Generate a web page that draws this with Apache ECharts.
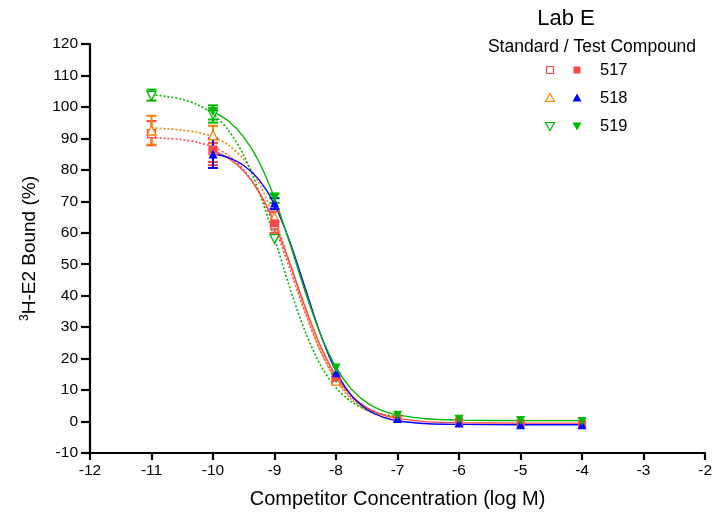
<!DOCTYPE html>
<html><head><meta charset="utf-8">
<script src="https://cdn.jsdelivr.net/npm/echarts@6/dist/echarts.min.js"></script>
<style>html,body{margin:0;padding:0;background:#fff}#c{width:715px;height:515px}</style>
</head><body><div id="c"></div>
<script>
// ---- data ----
const xTicks = [-12,-11,-10,-9,-8,-7,-6,-5,-4,-3,-2];
const doseStd = [-11,-10,-9,-8];
const doseTest = [-10,-9,-8,-7,-6,-5,-4];
const std517 = [91.5, 86, 62.5, 13.5];
const std518 = [92.5, 91, 65, 13];
const std519 = [103.5, 97.5, 58, 14];
const test517 = [86.5, 63, 14, 1, 0, -0.5, -0.8];
const test518 = [85, 69.5, 15.5, 1, -0.5, -1, -1];
const test519 = [98.5, 71, 17, 2, 0.7, 0.3, 0];
// error bars [x, low, high]
const err517s = [[-11, 87.8, 95.5],[-10, 82.5, 88.5]];
const err518s = [[-11, 88, 97.2],[-10, 88.5, 94]];
const err519s = [[-11, 102, 105.5],[-10, 96, 99.5]];
const err517t = [[-10, 81.5, 88.6],[-9, 60, 66.7]];
const err518t = [[-10, 80.6, 90],[-9, 67.5, 71]];
const err519t = [[-10, 95, 100.5],[-9, 69.5, 72.5]];
// fitted curves
const curveXStd = [-11,-10.75,-10.5,-10.25,-10,-9.75,-9.5,-9.25,-9,-8.75,-8.5,-8.25,-8,-7.75,-7.5,-7.25,-7];
const fit517s = [90.2,90.0,89.6,88.7,87.3,84.6,80.0,72.7,61.9,48.5,34.5,22.4,13.5,7.7,4.3,2.3,1.3];
const fit518s = [93.3,93.05,92.6,91.9,90.5,87.9,83.3,75.7,64.5,50.2,35.2,22.3,13.0,7.1,3.6,1.7,0.7];
const fit519s = [103.9,103.3,102.4,100.7,97.7,92.6,84.6,72.9,58.2,42.4,28.5,17.8,10.7,6.3,3.7,2.3,1.5];
const curveXTest = [-10,-9.75,-9.5,-9.25,-9,-8.75,-8.5,-8.25,-8,-7.75,-7.5,-7.25,-7,-6.5,-6,-5,-4];
const fit517t = [86.1,83.7,79.6,72.9,63.0,50.2,36.3,23.9,14.5,8.2,4.4,2.2,1.0,-0.1,-0.4,-0.5,-0.5];
const fit518t = [85.2,83.9,81.4,76.8,69.0,57.1,42.3,27.6,16.0,8.3,3.9,1.5,0.25,-0.7,-0.9,-1.0,-1.0];
const fit519t = [98.5,95.5,90.4,82.5,71.0,56.6,41.2,27.6,17.2,10.3,6.0,3.5,2.1,0.8,0.46,0.3,0.3];
const legendLabels = ['517','518','519'];

const RED='#FF4848', ORANGE='#FF8000', BLUE='#0000FF', GREEN='#00B800';
const FONT='Liberation Sans, Arial, sans-serif';
const zip=(xs,ys)=>xs.map((x,i)=>[x,ys[i]]);

function curve(xs, ys, color, dotted){
  return {type:'line', data:zip(xs,ys), smooth:0.3, showSymbol:false, silent:true, z:2,
    lineStyle:{color, width: dotted?1.6:1.4, type: dotted?[2,2]:'solid'}};
}
function errSeries(data, color){
  return {type:'custom', data, z:3, silent:true,
    renderItem:(params, api)=>{
      const x=api.value(0), lo=api.value(1), hi=api.value(2);
      const a=api.coord([x,lo]), b=api.coord([x,hi]);
      const st={stroke:color, lineWidth:2};
      return {type:'group', children:[
        {type:'line', shape:{x1:a[0],y1:a[1],x2:b[0],y2:b[1]}, style:st},
        {type:'line', shape:{x1:a[0]-5,y1:a[1],x2:a[0]+5,y2:a[1]}, style:st},
        {type:'line', shape:{x1:b[0]-5,y1:b[1],x2:b[0]+5,y2:b[1]}, style:st}
      ]};
    }};
}
function pts(xs, ys, color, symbol, open, rot){
  return {type:'scatter', data:zip(xs,ys), symbol, symbolSize: symbol==='rect'?8:9, symbolRotate: rot||0, z:5, silent:true,
    itemStyle:{color: open?'#fff':color, borderColor: color, borderWidth: open?1.3:0, opacity:1}};
}

const chart = echarts.init(document.getElementById('c'), null, {renderer:'canvas'});

const legendGraphics = [];
const legendY=[70,98,126];
const legendDefs=[
  {c1:RED,c2:RED,sym:'rect'},
  {c1:ORANGE,c2:BLUE,sym:'up'},
  {c1:GREEN,c2:GREEN,sym:'down'}
];
legendDefs.forEach((d,i)=>{
  const y=legendY[i];
  [[550,d.c1,true],[577,d.c2,false]].forEach(([x,col,open])=>{
    if(d.sym==='rect'){
      legendGraphics.push({type:'rect', shape:{x:x-3.5,y:y-3.5,width:7,height:7},
        style:{fill: open?'#fff':col, stroke: col, lineWidth: open?1.2:0}});
    } else {
      const up=d.sym==='up';
      const pts2 = up? [[x,y-4.5],[x+4.5,y+3.5],[x-4.5,y+3.5]] : [[x,y+4.5],[x+4.5,y-3.5],[x-4.5,y-3.5]];
      legendGraphics.push({type:'polygon', shape:{points:pts2},
        style:{fill: open?'#fff':col, stroke: col, lineWidth: open?1.2:0}});
    }
  });
  legendGraphics.push({type:'text', x:600, y:y, style:{text:legendLabels[i], font:'16.5px '+FONT, fill:'#000', textVerticalAlign:'middle', verticalAlign:'middle'}});
});
legendGraphics.push({type:'text', x:566, y:19, style:{text:'Lab E', font:'22px '+FONT, fill:'#000', align:'center', verticalAlign:'middle', textAlign:'center', textVerticalAlign:'middle'}});
legendGraphics.push({type:'text', x:592, y:47, style:{text:'Standard / Test Compound', font:'17.5px '+FONT, fill:'#000', align:'center', verticalAlign:'middle', textAlign:'center', textVerticalAlign:'middle'}});

chart.setOption({
  animation:false,
  backgroundColor:'#fff',
  grid:{left:90, right:8, top:44, bottom:62, containLabel:false},
  xAxis:{type:'value', min:-12, max:-2, interval:1,
    name:'Competitor Concentration (log M)', nameLocation:'middle', nameGap:36,
    nameTextStyle:{fontFamily:FONT, fontSize:20, color:'#000'},
    axisLine:{show:true, onZero:false, lineStyle:{color:'#000', width:2.2}},
    axisTick:{show:true, length:7, lineStyle:{color:'#000', width:2.2}},
    axisLabel:{fontFamily:FONT, fontSize:15.5, color:'#000', margin:10,
      formatter:v=>xTicks.includes(v)?String(v):''},
    splitLine:{show:false}},
  yAxis:{type:'value', min:-10, max:120, interval:10,
    name:'{sup|3}H-E2 Bound (%)', nameLocation:'middle', nameGap:50, nameRotate:90,
    nameTextStyle:{fontFamily:FONT, fontSize:19, color:'#000',
      rich:{sup:{fontFamily:FONT, fontSize:12, color:'#000', verticalAlign:'top', padding:[0,0,9,0]}}},
    axisLine:{show:true, onZero:false, lineStyle:{color:'#000', width:2.2}},
    axisTick:{show:true, length:9, lineStyle:{color:'#000', width:2.2}},
    axisLabel:{fontFamily:FONT, fontSize:15.5, color:'#000', margin:12},
    splitLine:{show:false}},
  graphic: legendGraphics,
  series:[
    curve(curveXStd, fit517s, RED, true),
    curve(curveXStd, fit518s, ORANGE, true),
    curve(curveXStd, fit519s, GREEN, true),
    curve(curveXTest, fit517t, RED, false),
    curve(curveXTest, fit518t, BLUE, false),
    curve(curveXTest, fit519t, GREEN, false),
    errSeries(err517s, RED),
    errSeries(err518s, ORANGE),
    errSeries(err519s, GREEN),
    errSeries(err517t, RED),
    errSeries(err518t, BLUE),
    errSeries(err519t, GREEN),
    pts(doseStd, std517, RED, 'rect', true),
    pts(doseStd, std518, ORANGE, 'triangle', true),
    pts(doseStd, std519, GREEN, 'triangle', true, 180),
    pts(doseTest, test517, RED, 'rect', false),
    pts(doseTest, test518, BLUE, 'triangle', false),
    pts(doseTest, test519, GREEN, 'triangle', false, 180)
  ]
});
</script></body></html>
